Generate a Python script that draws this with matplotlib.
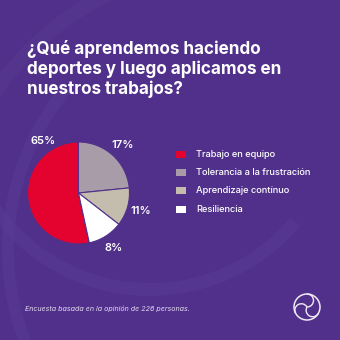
import numpy as np
import matplotlib
matplotlib.use("Agg")
import matplotlib.pyplot as plt
from matplotlib.patches import Circle, Wedge, Arc

# Data
categories = ["Trabajo en equipo", "Tolerancia a la frustración",
              "Aprendizaje contínuo", "Resiliencia"]
pct_labels = ["65%", "17%", "11%", "8%"]
# wedge shares as they are drawn in the picture
shares = [53.4, 23.4, 12.1, 11.1]
colors = ["#e4032e", "#a99ca9", "#c4bcac", "#ffffff"]

title = "¿Qué aprendemos haciendo\ndeportes y luego aplicamos en\nnuestros trabajos?"
footer = "Encuesta basada en la opinión de 226 personas."

bg = "#50308a"
band = "#5b3d96"
W = H = 340

fig = plt.figure(figsize=(3.4, 3.4), dpi=100, facecolor=bg)

# background axes in pixel coordinates
bax = fig.add_axes([0, 0, 1, 1])
bax.set_xlim(0, W)
bax.set_ylim(H, 0)
bax.axis("off")
bax.set_facecolor(bg)

# faint decorative bands
bax.add_patch(Wedge((150, 100), 196, 40, 150, width=13, facecolor=band,
                    edgecolor="none", alpha=0.45, zorder=0))
bax.add_patch(Wedge((260, 250), 258, 140, 220, width=12, facecolor=band,
                    edgecolor="none", alpha=0.45, zorder=0))
bax.add_patch(Wedge((230, 250), 290, 210, 250, width=14, facecolor=band,
                    edgecolor="none", alpha=0.4, zorder=0))

bax.text(27, 69, title, color="white", fontsize=12.3, fontweight="bold",
         family="Inter", va="center", ha="left", linespacing=1.17)

bax.text(25, 309, footer, color="#e6dcf2", fontsize=5.1, style="italic",
         family="Inter", va="center", ha="left")

# logo
lx, ly = 307, 307
bax.add_patch(Circle((lx, ly), 13, fill=False, edgecolor="#efe8f6", lw=1.1))
for k in range(3):
    a0 = 90 + 120 * k
    ax0 = lx + 6.5 * np.cos(np.radians(a0))
    ay0 = ly - 6.5 * np.sin(np.radians(a0))
    bax.add_patch(Arc((ax0, ay0), 13, 13, angle=-a0, theta1=0, theta2=180,
                      edgecolor="#efe8f6", lw=1.0))

# legend
for i, (cat, col) in enumerate(zip(categories, colors)):
    y = 154.3 + 18.3 * i
    bax.add_patch(plt.Rectangle((175.5, y - 3.5), 10, 7, facecolor=col,
                                edgecolor="none"))
    bax.text(196, y, cat, color="white", fontsize=6.7, family="Inter",
             fontweight="medium", va="center", ha="left")

# pie
cx, cy, r = 78.5, 193, 51
pax = fig.add_axes([(cx - r) / W, 1 - (cy + r) / H, 2 * r / W, 2 * r / H])
start = 90 + 360 * shares[0] / sum(shares)
wedges, _ = pax.pie(shares, colors=colors, startangle=start, counterclock=False,
                    wedgeprops=dict(edgecolor=bg, linewidth=0.8))
pax.set_xlim(-1, 1)
pax.set_ylim(-1, 1)
pax.set_aspect("equal")
pax.axis("off")

for i, (w, lab) in enumerate(zip(wedges, pct_labels)):
    if i == 0:
        ang = w.theta1 + 34
        dist = 1.24
    else:
        ang = (w.theta1 + w.theta2) / 2
        dist = 1.28
    pax.text(dist * np.cos(np.radians(ang)), dist * np.sin(np.radians(ang)), lab,
             color="white", fontsize=8, fontweight="semibold", family="Inter",
             ha="center", va="center", clip_on=False)

fig.savefig("out.png", dpi=100, facecolor=bg)
